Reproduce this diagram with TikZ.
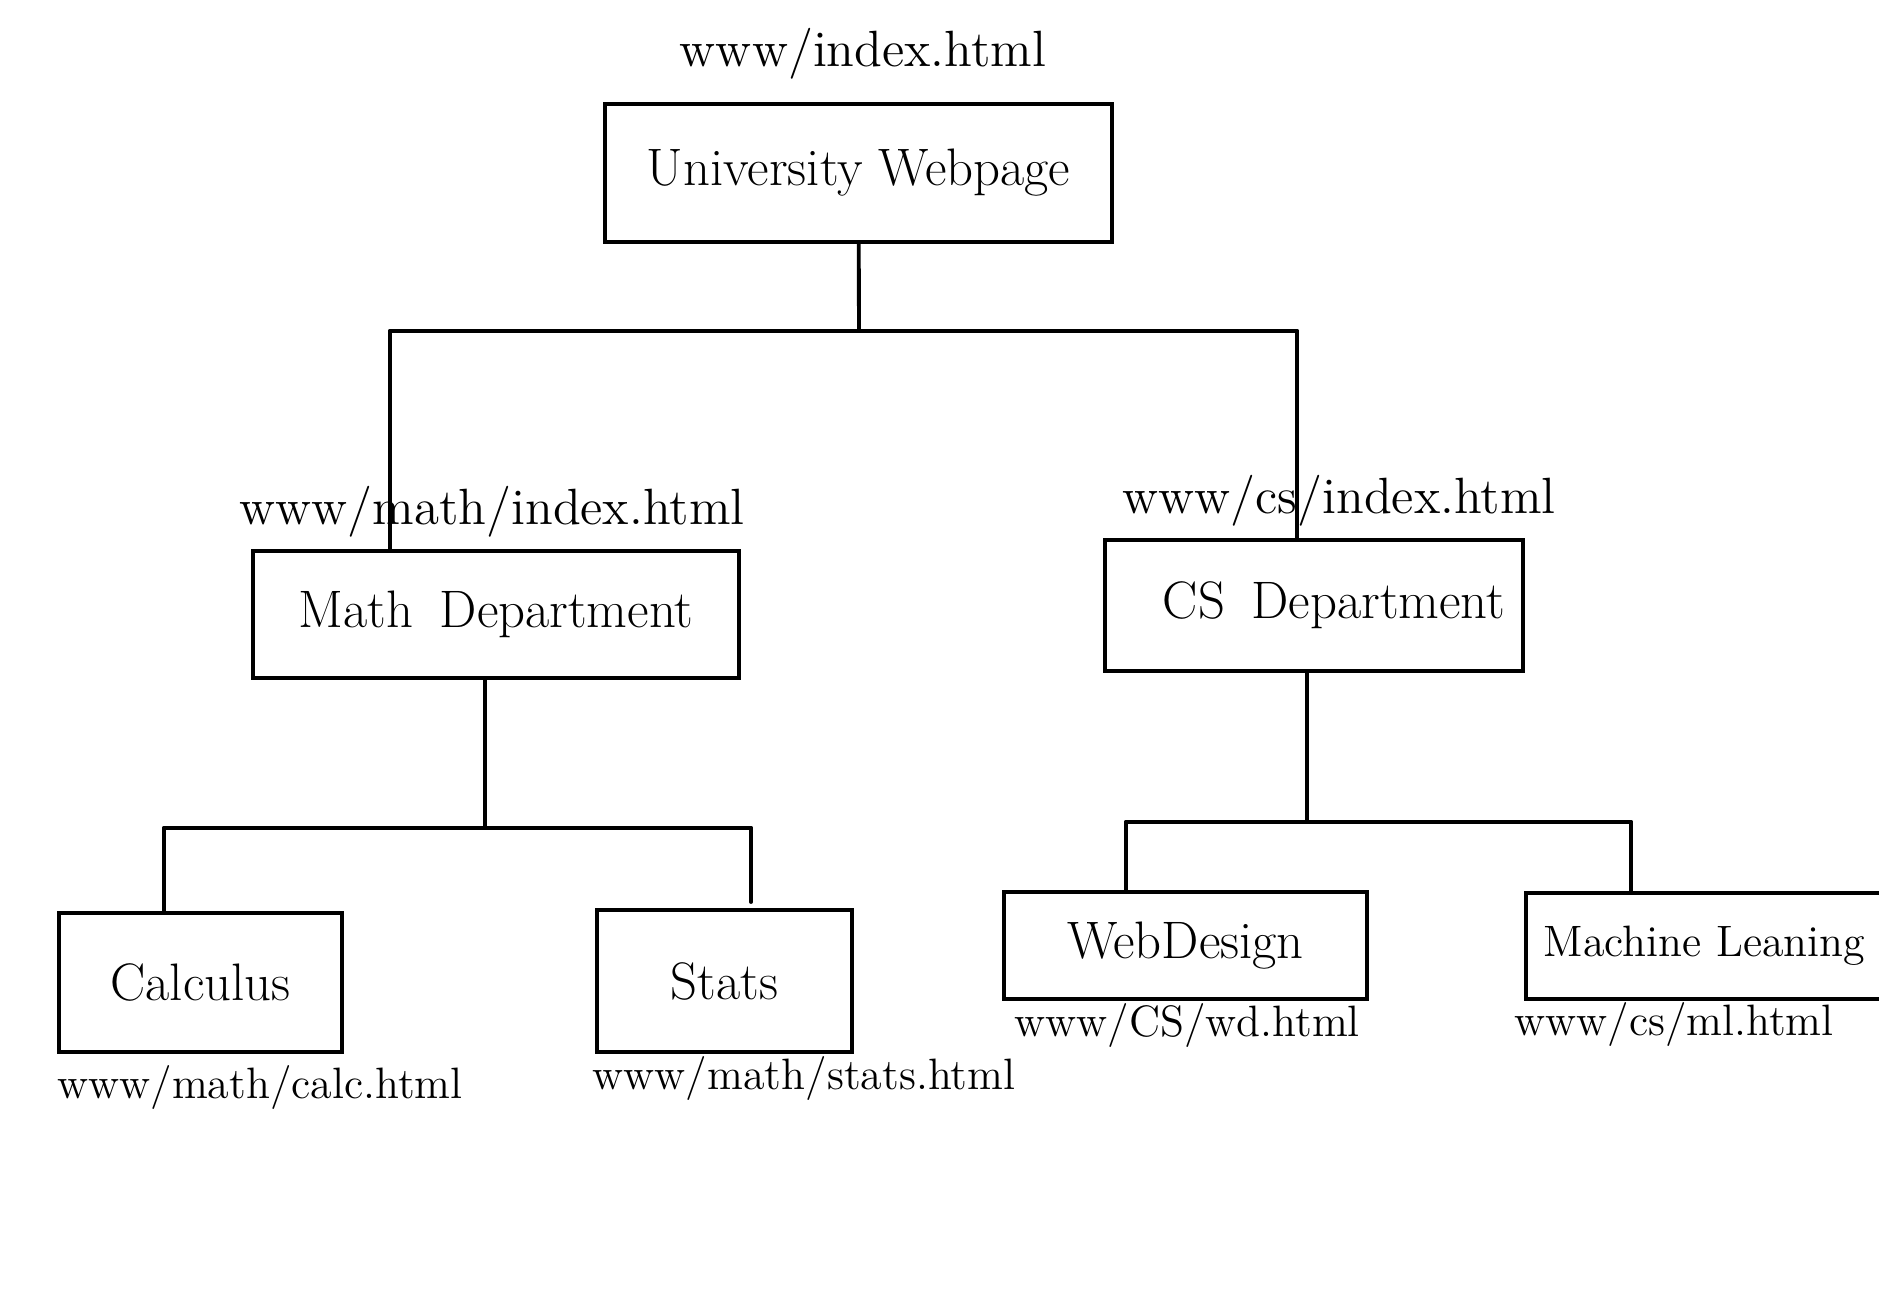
\documentclass[tikz,border=0pt]{standalone}
\usepackage{amsmath,amssymb}
\usepackage{tikz}

\begin{document}
\begin{tikzpicture}[x=0.01cm,y=-0.01cm,
  page/.style={draw,rectangle,inner sep=0pt,font=\fontsize{15}{18}\selectfont},
  url/.style={font=\fontsize{14.5}{17}\selectfont},
  leafurl/.style={font=\fontsize{12.5}{15}\selectfont}]
\clip (0,0) rectangle (1879,1294);
\fill[white] (0,0) rectangle (1879,1294);
\begin{scope}[line width=1.1pt,line cap=round]
\node[page,minimum width=5.07cm,minimum height=1.38cm] (root) at (858.5,173) {University Webpage};
\node[page,minimum width=4.86cm,minimum height=1.27cm] (math) at (496,614.5) {Math\enspace Department};
\node[page,minimum width=4.18cm,minimum height=1.31cm] (cs) at (1314,605.5) {\hspace{0.4cm}CS\enspace Department};
\node[page,minimum width=2.83cm,minimum height=1.39cm] (calc) at (200.5,982.5) {Calculus};
\node[page,minimum width=2.55cm,minimum height=1.42cm] (stats) at (724.5,981) {Stats\hspace{0.4cm}};
\node[page,minimum width=3.63cm,minimum height=1.07cm] (wd) at (1185.5,945.5) {WebDesign};
\node[page,anchor=west,align=left,text width=3.9cm,inner xsep=0.18cm,minimum height=1.06cm,font=\fontsize{12.5}{15}\selectfont] (ml) at (1524,946) {Machine Leaning};
\node[url] (urlroot) at (863,54) {www/index.html};
\node[url] (urlmath) at (492,512) {www/math/index.html};
\node[url] (urlcs) at (1339,501) {www/cs/index.html};
\node[leafurl] (urlcalc) at (260,1087) {www/math/calc.html};
\node[leafurl] (urlstats) at (804,1078) {www/math/stats.html};
\node[leafurl] (urlwd) at (1187,1025) {www/CS/wd.html};
\node[leafurl] (urlml) at (1674,1024) {www/cs/ml.html};
\coordinate (top) at (859,331);
\coordinate (topL) at (390,331);
\coordinate (topR) at (1297,331);
\coordinate (mj) at (485,828);
\coordinate (mjL) at (164,828);
\coordinate (mjR) at (751,828);
\coordinate (statsEnd) at (751,902);
\coordinate (cj) at (1307,822);
\coordinate (cjL) at (1126,822);
\coordinate (cjR) at (1631,822);
\draw (root) -- (top);
\draw (topL) -- (topR);
\draw (topL) -- (topL |- math.north);
\draw (topR) -- (topR |- cs.north);
\draw (mj |- math.south) -- (mj);
\draw (mjL) -- (mjR);
\draw (mjL) -- (mjL |- calc.north);
\draw (mjR) -- (statsEnd);
\draw (cj |- cs.south) -- (cj);
\draw (cjL) -- (cjR);
\draw (cjL) -- (cjL |- wd.north);
\draw (cjR) -- (cjR |- ml.north);
\end{scope}
\end{tikzpicture}
\end{document}
